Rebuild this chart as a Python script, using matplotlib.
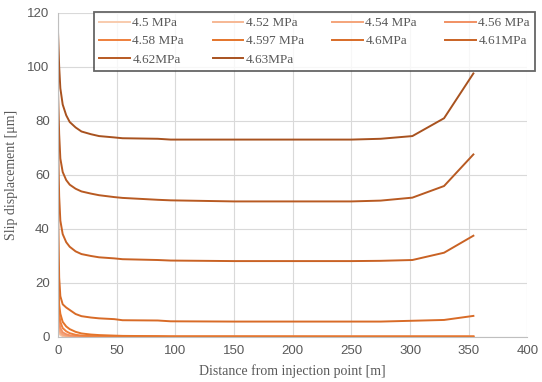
import numpy as np
import matplotlib.pyplot as plt

# distance from injection point [m]
dist = [0, 1, 2, 4, 7, 10, 15, 20, 28, 35, 48, 55, 85, 96, 150, 250, 275, 302, 329, 354]

labels = ['4.5 MPa', '4.52 MPa', '4.54 MPa', '4.56 MPa', '4.58 MPa',
          '4.597 MPa', '4.6MPa', '4.61MPa', '4.62MPa', '4.63MPa']

# slip displacement [um]
slip_450 = [8, 1.5, 0.6, 0.2, 0.1, 0.05, 0, 0, 0, 0, 0, 0, 0, 0, 0, 0, 0, 0, 0, 0]
slip_452 = [10, 2.5, 1.0, 0.4, 0.2, 0.1, 0.05, 0, 0, 0, 0, 0, 0, 0, 0, 0, 0, 0, 0, 0]
slip_454 = [12, 3.5, 1.8, 0.8, 0.4, 0.2, 0.1, 0.05, 0, 0, 0, 0, 0, 0, 0, 0, 0, 0, 0, 0]
slip_456 = [15, 5.5, 3.2, 1.6, 0.9, 0.5, 0.25, 0.12, 0.05, 0, 0, 0, 0, 0, 0, 0, 0, 0, 0, 0]
slip_458 = [20, 8.5, 5.5, 3.2, 2.0, 1.3, 0.7, 0.4, 0.2, 0.1, 0.05, 0, 0, 0, 0, 0, 0, 0, 0, 0]
slip_4597 = [25, 12, 8.5, 5.5, 3.8, 2.8, 1.8, 1.2, 0.8, 0.6, 0.4, 0.3, 0.2, 0.1, 0.1, 0.05, 0.05, 0.05, 0.05, 0.05]
slip_460 = [50, 22, 15, 12, 10.8, 9.9, 8.4, 7.6, 7.1, 6.8, 6.5, 6.1, 6.0, 5.7, 5.6, 5.6, 5.6, 5.9, 6.2, 7.7]
slip_461 = [73, 52, 43, 38, 35, 33.3, 31.6, 30.6, 29.9, 29.4, 29.0, 28.7, 28.4, 28.2, 28.0, 28.0, 28.1, 28.4, 31.1, 37.4]
slip_462 = [91, 75, 66, 61, 58, 56.3, 54.8, 53.8, 53, 52.4, 51.7, 51.4, 50.7, 50.5, 50.1, 50.1, 50.4, 51.5, 55.8, 67.5]
slip_463 = [113, 100, 92, 86, 82, 79.5, 77.5, 76, 75, 74.3, 73.8, 73.5, 73.3, 73.0, 73.0, 73.0, 73.3, 74.3, 80.9, 97.5]

series = [slip_450, slip_452, slip_454, slip_456, slip_458,
          slip_4597, slip_460, slip_461, slip_462, slip_463]
colors = ['#f8cbad', '#f6b894', '#f4a47a', '#f19063', '#ee7f3c',
          '#e4742a', '#d86b27', '#c96224', '#b85a22', '#a8521f']

serif = ['Liberation Serif', 'DejaVu Serif']
sans = ['Liberation Sans', 'DejaVu Sans']

fig = plt.figure(figsize=(5.42, 3.82), dpi=100)
ax = fig.add_axes([0.107, 0.1186, 0.866, 0.8482])

lines = []
for y, c, lab in zip(series, colors, labels):
    ln, = ax.plot(dist, y, color=c, linewidth=1.4, label=lab)
    lines.append(ln)

ax.set_xlim(0, 400)
ax.set_ylim(0, 120)
ax.set_xticks(np.arange(0, 401, 50))
ax.set_yticks(np.arange(0, 121, 20))
ax.grid(True, color='#d9d9d9', linewidth=0.8)
ax.set_axisbelow(True)
for s in ['top', 'right']:
    ax.spines[s].set_visible(False)
for s in ['left', 'bottom']:
    ax.spines[s].set_color('#bfbfbf')
ax.tick_params(length=0, labelsize=9.5, labelcolor='#595959', pad=6)
for t in ax.get_xticklabels() + ax.get_yticklabels():
    t.set_family(sans)

ax.set_xlabel('Distance from injection point [m]', family=serif, fontsize=10, color='#595959', labelpad=5)
ax.set_ylabel('Slip displacement [μm]', family=serif, fontsize=10, color='#595959', labelpad=7)

# legend filled row by row (matplotlib fills columns first)
order = [0, 4, 8, 1, 5, 9, 2, 6, 3, 7]
leg = ax.legend([lines[i] for i in order], [labels[i] for i in order],
                ncol=4, loc='upper left', bbox_to_anchor=(0.077, 1.003, 0.94, 0.0),
                mode='expand', prop={'family': serif, 'size': 9.5}, frameon=True,
                fancybox=False, handlelength=2.3, handletextpad=0.2,
                borderaxespad=0, labelspacing=0.45, borderpad=0.4, columnspacing=1.0)
leg.get_frame().set_edgecolor('#404040')
leg.get_frame().set_linewidth(1.3)
for t in leg.get_texts():
    t.set_color('#595959')

fig.savefig('out.png', dpi=100)
